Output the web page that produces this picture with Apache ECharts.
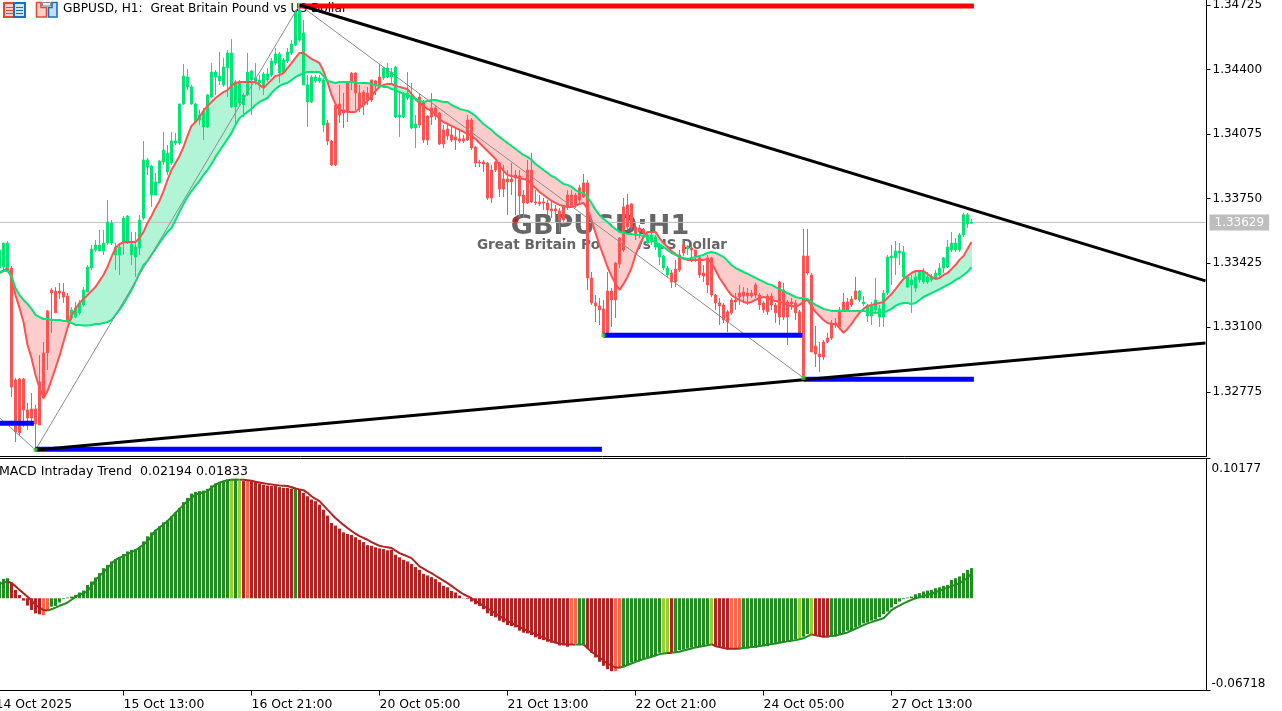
<!DOCTYPE html>
<html>
<head>
<meta charset="utf-8">
<script src="https://cdn.jsdelivr.net/npm/echarts@6/dist/echarts.min.js"></script>
<style>html,body{margin:0;padding:0;background:#fff;overflow:hidden}#c{width:1282px;height:711px}</style>
</head>
<body>
<div id="c"></div>
<script>
// All prices below are in points (1 point = 0.00001).
const tickLabels = ['14 Oct 2025','15 Oct 13:00','16 Oct 21:00','20 Oct 05:00','21 Oct 13:00','22 Oct 21:00','24 Oct 05:00','27 Oct 13:00'];
const priceTicks = [1.34725,1.344,1.34075,1.3375,1.33425,1.331,1.32775];
const priceTickText = ['1.34725','1.34400','1.34075','1.33750','1.33425','1.33100','1.32775'];
const macdTicks = [-0.06718,0.10177];
const lastPrice = 1.33629;

const highs = [
133490,133515,133525,133535,133409,132845,132845,132845,132719,132769,
132709,132961,133026,133188,133298,133303,133324,133324,133273,133203,
133228,133238,133303,133414,133515,133540,133591,133591,133742,133641,
133525,133525,133661,133666,133581,133581,133666,134039,133954,133919,
133878,133944,134085,134019,134085,134080,134226,134427,134402,134322,
134231,134196,134206,134276,134432,134397,134488,134458,134498,134553,
134347,134347,134281,134483,134397,134432,134372,134387,134407,134458,
134508,134488,134458,134508,134548,134700,134725,134649,134372,134372,
134372,134372,134357,134145,134044,134226,134322,134281,134342,134387,
134387,134322,134296,134312,134347,134347,134427,134412,134432,134407,
134417,134281,134286,134387,134332,134170,134281,134246,134170,134281,
134221,134185,134120,134120,134120,134105,134095,134070,134170,134155,
134014,133944,133944,133934,133919,133939,133934,133919,133893,133929,
133893,133893,133792,133944,133979,133792,133767,133752,133742,133742,
133717,133702,133712,133792,133792,133777,133818,133873,133843,133379,
133263,133248,133238,133379,133298,133429,133555,133752,133772,133727,
133616,133616,133601,133581,133576,133566,133525,133465,133409,133389,
133440,133490,133540,133515,133515,133490,133460,133414,133465,133455,
133268,133248,133223,133188,133248,133273,133314,133303,133298,133288,
133324,133273,133233,133268,133273,133223,133334,133324,133238,133248,
133238,133188,133596,133596,133374,133107,133026,133036,133072,133137,
133147,133203,133273,133248,133258,133354,133288,133258,133218,133228,
133349,133213,133288,133465,133515,133535,133525,133510,133364,133364,
133379,133389,133399,133379,133369,133389,133424,133455,133540,133581,
133550,133576,133677,133677,133646];

const lows = [
133389,133389,133389,133389,132749,132522,132557,132598,132583,132608,
132482,132608,132744,132885,133072,133173,133243,133223,133127,133137,
133147,133163,133203,133278,133389,133480,133485,133465,133515,133515,
133389,133364,133465,133520,133414,133354,133465,133641,133868,133707,
133767,133828,133919,133868,133919,134019,134019,134221,134296,134221,
134130,134120,134044,134105,134256,134271,134322,134312,134261,134206,
134130,134221,134160,134266,134170,134322,134296,134271,134337,134362,
134422,134332,134382,134432,134473,134518,134538,134322,134110,134231,
134332,134332,134085,134019,133913,133913,134130,134105,134135,134296,
134196,134185,134170,134221,134236,134271,134312,134347,134357,134322,
134155,134060,134155,134246,134100,134004,134105,134029,134019,134120,
134145,134019,134004,134044,134034,133994,134029,134029,134039,133994,
133908,133908,133883,133742,133727,133883,133757,133757,133666,133767,
133666,133656,133656,133722,133727,133717,133712,133692,133666,133651,
133631,133581,133631,133692,133702,133702,133717,133752,133288,133213,
133127,133112,133062,133067,133102,133147,133399,133480,133591,133591,
133540,133550,133566,133515,133515,133490,133414,133389,133349,133298,
133303,133379,133460,133465,133429,133429,133349,133329,133273,133253,
133188,133112,133122,133077,133163,133188,133213,133223,133213,133248,
133248,133188,133173,133163,133188,133122,133112,133137,133011,133188,
133137,133056,132835,133364,132976,132900,132875,132936,133021,133036,
133097,133087,133178,133178,133203,133238,133228,133208,133127,133112,
133178,133102,133102,133263,133314,133364,133414,133349,133298,133173,
133278,133324,133319,133319,133329,133339,133354,133374,133399,133480,
133480,133480,133555,133601,133621];

const opens = [
133399,133399,133404,133399,133399,132835,132840,132840,132684,132689,
132689,132825,132971,133183,133288,133283,133283,133278,133258,133147,
133152,133173,133213,133278,133399,133490,133485,133485,133525,133525,
133465,133465,133525,133530,133465,133455,133500,133651,133908,133767,
133767,133828,133934,133883,133929,134029,134029,134226,134312,134226,
134135,134145,134110,134110,134261,134362,134342,134322,134407,134211,
134211,134231,134221,134271,134347,134332,134332,134312,134347,134372,
134432,134382,134387,134443,134483,134523,134548,134322,134236,134236,
134342,134342,134120,134130,134039,134221,134226,134196,134337,134382,
134382,134281,134286,134281,134347,134342,134362,134357,134362,134362,
134160,134160,134160,134256,134105,134105,134261,134236,134165,134206,
134206,134180,134095,134100,134070,134060,134050,134050,134145,134145,
134009,133933,133933,133928,133893,133933,133928,133848,133848,133848,
133868,133863,133767,133893,133893,133732,133732,133732,133727,133697,
133697,133687,133707,133767,133767,133767,133803,133828,133828,133349,
133223,133208,133193,133283,133283,133424,133550,133707,133717,133722,
133606,133601,133591,133525,133530,133505,133455,133399,133364,133374,
133394,133465,133515,133495,133500,133490,133450,133374,133450,133450,
133263,133223,133213,133178,133238,133238,133273,133278,133273,133273,
133314,133263,133223,133258,133258,133213,133329,133288,133228,133228,
133223,133178,133460,133460,133364,133006,132966,133026,133046,133122,
133122,133188,133228,133228,133243,133283,133238,133218,133157,133157,
133188,133152,133152,133273,133450,133450,133475,133354,133303,133314,
133298,133339,133329,133329,133339,133349,133364,133399,133404,133490,
133490,133490,133566,133621,133625];

const closes = [
133465,133490,133525,133525,132799,132573,132568,132684,132643,132643,
132613,132608,132744,132971,133273,133173,133273,133253,133127,133188,
133198,133223,133288,133404,133495,133515,133515,133525,133631,133626,
133505,133505,133651,133661,133520,133505,133641,133944,133944,133913,
133833,133939,133994,133979,134039,134039,134226,134367,134362,134312,
134226,134170,134191,134271,134387,134387,134367,134412,134483,134483,
134337,134332,134271,134387,134392,134357,134347,134377,134377,134443,
134478,134478,134448,134488,134528,134690,134700,134584,134322,134362,
134362,134357,134347,134039,133918,133918,134170,134180,134186,134337,
134281,134206,134221,134246,134246,134322,134322,134407,134407,134387,
134412,134170,134281,134281,134256,134125,134120,134044,134044,134160,
134165,134024,134024,134065,134044,134044,134039,134039,134044,134004,
133928,133928,133923,133752,133752,133893,133797,133797,133833,133833,
133853,133762,133727,133727,133732,133727,133722,133727,133692,133687,
133687,133641,133641,133707,133712,133717,133742,133757,133349,133223,
133208,133188,133067,133072,133238,133238,133419,133490,133606,133606,
133566,133581,133576,133566,133566,133555,133515,133460,133399,133329,
133329,133389,133475,133505,133490,133460,133364,133359,133314,133263,
133223,133208,133137,133127,133173,133228,133253,133258,133258,133258,
133263,133213,133188,133178,133213,133173,133152,133152,133152,133218,
133173,133062,132845,133374,132976,132966,132951,132951,133026,133046,
133112,133102,133188,133188,133213,133243,133283,133228,133208,133208,
133238,133193,133273,133455,133460,133485,133485,133480,133354,133339,
133354,133379,133379,133354,133354,133374,133399,133450,133505,133525,
133525,133566,133667,133667,133629];

const fastEma = [
133369,133374,133384,133399,133349,133263,133198,133127,133011,132946,
132860,132794,132744,132779,132835,132895,132956,133026,133097,133157,
133193,133223,133243,133263,133283,133303,133334,133364,133404,133455,
133500,133520,133530,133530,133530,133530,133550,133581,133626,133661,
133702,133737,133787,133843,133893,133928,133964,134009,134065,134115,
134135,134160,134191,134216,134236,134256,134271,134286,134296,134317,
134332,134337,134337,134337,134337,134337,134322,134306,134327,134347,
134367,134372,134382,134407,134432,134458,134483,134483,134468,134453,
134443,134432,134392,134337,134271,134226,134196,134191,134186,134186,
134186,134206,134221,134241,134266,134291,134312,134322,134327,134327,
134317,134312,134306,134301,134276,134251,134231,134216,134201,134191,
134175,134150,134135,134125,134115,134105,134095,134085,134075,134065,
134049,134029,134009,133989,133969,133949,133918,133888,133868,133863,
133858,133853,133848,133843,133823,133802,133782,133767,133752,133737,
133727,133717,133712,133707,133707,133712,133722,133727,133697,133641,
133576,133515,133460,133404,133359,133319,133288,133319,133354,133399,
133465,133515,133555,133581,133581,133581,133550,133525,133505,133485,
133470,133455,133445,133440,133440,133440,133440,133440,133445,133424,
133389,133349,133319,133288,133263,133248,133238,133228,133223,133228,
133238,133248,133253,133248,133238,133233,133228,133223,133213,133208,
133203,133213,133228,133238,133208,133178,133157,133137,133122,133117,
133117,133097,133072,133092,133117,133147,133173,133193,133208,133213,
133218,133223,133228,133248,133268,133293,133319,133344,133359,133374,
133384,133384,133384,133369,133354,133344,133349,133364,133374,133394,
133414,133440,133460,133495,133530];

const slowEma = [
133379,133379,133384,133384,133359,133298,133263,133238,133218,133193,
133163,133152,133142,133142,133137,133137,133137,133132,133132,133122,
133112,133112,133109,133109,133112,133117,133117,133122,133127,133137,
133163,133188,133218,133253,133288,133329,133374,133414,133435,133465,
133495,133525,133555,133581,133601,133641,133682,133722,133757,133787,
133813,133838,133868,133893,133923,133959,133989,134019,134049,134080,
134120,134155,134170,134186,134201,134221,134236,134246,134256,134281,
134301,134317,134327,134332,134347,134362,134372,134382,134387,134387,
134387,134387,134367,134342,134337,134332,134337,134337,134337,134337,
134334,134332,134332,134332,134327,134322,134317,134312,134312,134301,
134296,134286,134276,134271,134261,134251,134241,134236,134241,134246,
134246,134241,134236,134236,134221,134211,134201,134196,134191,134180,
134165,134145,134125,134110,134095,134075,134060,134044,134029,134014,
133999,133984,133969,133959,133944,133923,133908,133893,133878,133863,
133853,133838,133823,133818,133808,133792,133782,133777,133757,133727,
133692,133666,133646,133631,133611,133596,133581,133576,133571,133571,
133566,133566,133561,133555,133540,133530,133515,133505,133490,133475,
133465,133455,133450,133445,133450,133455,133460,133465,133475,133480,
133475,133465,133455,133435,133414,133399,133389,133379,133369,133359,
133349,133339,133329,133319,133314,133303,133293,133283,133273,133263,
133253,133248,133248,133243,133228,133213,133203,133193,133188,133183,
133183,133183,133183,133183,133183,133183,133183,133183,133178,133173,
133173,133173,133173,133183,133193,133208,133218,133223,133223,133218,
133223,133238,133253,133263,133273,133283,133293,133303,133314,133324,
133339,133349,133364,133379,133404];

const macdHist = [
.0110,.0122,.0141,.0146,.0115,.0061,.0024,-.0017,-.0053,-.0086,
-.0110,-.0117,-.0122,-.0090,-.0061,-.0056,-.0031,-.0005,.0005,.0012,
.0024,.0042,.0056,.0097,.0122,.0151,.0183,.0219,.0243,.0268,
.0285,.0300,.0322,.0341,.0353,.0358,.0373,.0414,.0451,.0480,
.0499,.0524,.0553,.0568,.0597,.0626,.0658,.0700,.0731,.0762,
.0775,.0780,.0784,.0797,.0821,.0836,.0848,.0853,.0865,.0865,
.0865,.0853,.0853,.0853,.0853,.0848,.0836,.0826,.0821,.0817,
.0817,.0809,.0804,.0804,.0797,.0797,.0792,.0768,.0743,.0719,
.0707,.0682,.0645,.0602,.0548,.0529,.0507,.0480,.0468,.0461,
.0444,.0426,.0409,.0387,.0382,.0371,.0363,.0358,.0349,.0353,
.0317,.0298,.0280,.0268,.0249,.0227,.0207,.0178,.0166,.0154,
.0139,.0117,.0090,.0080,.0053,.0042,.0020,.0002,-.0005,-.0024,
-.0044,-.0056,-.0080,-.0110,-.0129,-.0139,-.0163,-.0175,-.0195,-.0202,
-.0212,-.0236,-.0251,-.0256,-.0268,-.0285,-.0298,-.0305,-.0317,-.0324,
-.0329,-.0344,-.0344,-.0353,-.0336,-.0329,-.0336,-.0336,-.0366,-.0397,
-.0431,-.0463,-.0492,-.0517,-.0531,-.0529,-.0512,-.0499,-.0488,-.0468,
-.0458,-.0451,-.0439,-.0433,-.0422,-.0414,-.0397,-.0397,-.0397,-.0397,
-.0390,-.0378,-.0373,-.0366,-.0360,-.0353,-.0353,-.0344,-.0336,-.0334,
-.0349,-.0353,-.0360,-.0373,-.0366,-.0373,-.0373,-.0366,-.0366,-.0360,
-.0360,-.0353,-.0349,-.0349,-.0341,-.0334,-.0324,-.0319,-.0317,-.0305,
-.0300,-.0292,-.0280,-.0261,-.0263,-.0268,-.0276,-.0285,-.0285,-.0276,
-.0276,-.0268,-.0251,-.0236,-.0232,-.0214,-.0200,-.0183,-.0175,-.0163,
-.0154,-.0139,-.0115,-.0097,-.0068,-.0042,-.0024,-.0007,.0005,.0012,
.0029,.0037,.0049,.0056,.0061,.0073,.0080,.0090,.0097,.0134,
.0146,.0159,.0183,.0207,.02194];

const macdSignal = [
.0095,.0105,.0113,.0122,.0110,.0088,.0061,.0037,.0011,-.0015,
-.0049,-.0069,-.0086,-.0090,-.0080,-.0068,-.0055,-.0044,-.0031,-.0011,
.0012,.0026,.0037,.0049,.0088,.0134,.0161,.0190,.0219,.0249,
.0280,.0296,.0307,.0322,.0336,.0349,.0369,.0391,.0414,.0453,
.0492,.0515,.0537,.0561,.0592,.0621,.0651,.0680,.0707,.0731,
.0755,.0764,.0771,.0780,.0804,.0828,.0841,.0852,.0860,.0863,
.0865,.0863,.0863,.0860,.0855,.0848,.0843,.0838,.0833,.0828,
.0824,.0821,.0819,.0817,.0808,.0799,.0793,.0787,.0768,.0743,
.0724,.0707,.0676,.0645,.0614,.0585,.0559,.0534,.0512,.0490,
.0470,.0453,.0439,.0426,.0409,.0395,.0382,.0376,.0371,.0366,
.0347,.0329,.0317,.0305,.0292,.0263,.0232,.0216,.0197,.0183,
.0164,.0146,.0128,.0110,.0090,.0069,.0048,.0029,.0015,0,
-.0018,-.0037,-.0055,-.0073,-.0091,-.0110,-.0129,-.0146,-.0164,-.0179,
-.0195,-.0208,-.0223,-.0238,-.0249,-.0261,-.0274,-.0285,-.0300,-.0311,
-.0322,-.0329,-.0333,-.0336,-.0336,-.0336,-.0336,-.0336,-.0362,-.0390,
-.0409,-.0431,-.0453,-.0475,-.0490,-.0504,-.0504,-.0499,-.0486,-.0475,
-.0463,-.0453,-.0442,-.0435,-.0426,-.0417,-.0407,-.0402,-.0399,-.0397,
-.0393,-.0390,-.0380,-.0373,-.0366,-.0358,-.0353,-.0347,-.0342,-.0336,
-.0349,-.0355,-.0362,-.0368,-.0368,-.0367,-.0366,-.0362,-.0358,-.0355,
-.0353,-.0347,-.0344,-.0338,-.0334,-.0329,-.0324,-.0319,-.0314,-.0309,
-.0305,-.0298,-.0292,-.0278,-.0263,-.0269,-.0275,-.0280,-.0278,-.0275,
-.0273,-.0265,-.0257,-.0249,-.0235,-.0222,-.0209,-.0196,-.0183,-.0174,
-.0164,-.0155,-.0146,-.0117,-.0086,-.0069,-.0053,-.0037,-.0024,-.0012,
0,.0008,.0016,.0024,.0034,.0044,.0055,.0066,.0077,.0088,
.0099,.0110,.0128,.0146,.01833];

// [colour key, how many consecutive histogram bars]
const macdColorRuns = [['g',4],['r',8],['o',2],['g',45],['y',1],['g',1],['y',1],['r',1],['o',1],['r',11],['g',1],['r',68],['o',2],['g',2],['r',7],['o',2],['g',10],['y',2],['r',1],['g',9],['y',1],['r',4],['o',3],['g',14],['y',1],['g',2],['y',1],['r',4],['g',36]];

// [bar index, price in points]
const zigzag = [[0,132663],[10,132482],[76,134725],[202,132845]];
const upperTrend = [[76,134725],[302.5,133334]];
const lowerTrend = [[10,132482],[302.5,133021]];
const levelRed = [[76,134720],[244.6,134720]];
const levelBlue1 = [[-0.5,132617],[9.6,132617]];
const levelBlue2 = [[10,132485],[151.6,132485]];
const levelBlue3 = [[152,133060],[201.7,133060]];
const levelBlue4 = [[202,132838],[244.6,132838]];
const pivotsGreen = [[10,132482],[152,133060],[202,132845]];
const pivotOrange = [[76,134725]];
const redDot = [[130,133640]];
const lastPriceLine = [[-0.5,133629],[302.5,133629]];

[highs,lows,opens,closes,fastEma,slowEma,macdHist,macdSignal].forEach((a,k)=>{ if(a.length!==245) throw new Error('length '+k+' = '+a.length); });

const BAR_SLOTS = 303, TICK_EVERY = 32;
const px = p => p/100000;
const categories = Array.from({length:BAR_SLOTS},(_,i)=> i%TICK_EVERY===0 && tickLabels[i/TICK_EVERY] ? tickLabels[i/TICK_EVERY] : String(i));
const showTick = i => i%TICK_EVERY===0 && i/TICK_EVERY<tickLabels.length;
const barKeys = []; macdColorRuns.forEach(([k,n])=>{ for(let j=0;j<n;j++) barKeys.push(k); });
const MACD_COLORS = {g:'#228B22',y:'#9ACD32',r:'#B22222',o:'#FF6347'};
const isUp = k => k==='g'||k==='y';
const sigUp = macdSignal.map((v,i)=> (isUp(barKeys[i])||isUp(barKeys[i+1]||barKeys[i])) ? v : null);
const sigDn = macdSignal.map((v,i)=> (!isUp(barKeys[i])||!isUp(barKeys[i+1]||barKeys[i])) ? v : null);
const pairs = a => a.map(([x,p])=>[x,px(p)]);
const FONT = '"DejaVu Sans"';

function fillItem(params, api){
  const i = params.dataIndex;
  if(i>=fastEma.length-1) return null;
  const a=api.coord([i,px(fastEma[i])]), b=api.coord([i,px(slowEma[i])]);
  const c=api.coord([i+1,px(fastEma[i+1])]), d=api.coord([i+1,px(slowEma[i+1])]);
  const s0=fastEma[i]-slowEma[i], s1=fastEma[i+1]-slowEma[i+1];
  const G='#B2F5D6', R='#FFCCCC';
  const poly=(pts,col)=>({type:'polygon',shape:{points:pts},style:{fill:col,stroke:col,lineWidth:1},silent:true});
  if(s0*s1>=0) return poly([a,c,d,b], (s0+s1)>=0?G:R);
  const t=s0/(s0-s1), m=[a[0]+(c[0]-a[0])*t, a[1]+(c[1]-a[1])*t];
  return {type:'group',children:[poly([a,m,b],s0>0?G:R),poly([m,c,d],s1>0?G:R)]};
}
const valueLine=(data,color,width,z)=>({type:'line',xAxisIndex:1,yAxisIndex:0,data:pairs(data),symbol:'none',z,lineStyle:{color,width},silent:true});

const chart = echarts.init(document.getElementById('c'),null,{renderer:'canvas'});
chart.setOption({
  animation:false,
  textStyle:{fontFamily:FONT},
  grid:[
    {left:-6.5,top:-1,width:1212,height:457.5,containLabel:false,outerBoundsMode:'none'},
    {left:-6.5,top:458.5,width:1212,height:232,containLabel:false,outerBoundsMode:'none'}
  ],
  graphic:{elements:[
    {type:'rect',shape:{x:4,y:3,width:10,height:14},style:{fill:'#FFD0C8',stroke:'#E0483C',lineWidth:2}},
    {type:'rect',shape:{x:14,y:3,width:11,height:14},style:{fill:'#CFE6F7',stroke:'#1B6FB5',lineWidth:2}},
    {type:'rect',shape:{x:6,y:7,width:7,height:1},style:{fill:'#E0483C'}},
    {type:'rect',shape:{x:6,y:10,width:7,height:1},style:{fill:'#E0483C'}},
    {type:'rect',shape:{x:6,y:13,width:7,height:1},style:{fill:'#E0483C'}},
    {type:'rect',shape:{x:16,y:7,width:7,height:1},style:{fill:'#1B6FB5'}},
    {type:'rect',shape:{x:16,y:10,width:7,height:1},style:{fill:'#1B6FB5'}},
    {type:'rect',shape:{x:16,y:13,width:7,height:1},style:{fill:'#1B6FB5'}},
    {type:'polygon',shape:{points:[[36.5,2.5],[41,2.5],[41,7.5],[46.5,7.5],[46.5,17],[36.5,17]]},style:{fill:'#FFD0C8',stroke:'#E0483C',lineWidth:1.6}},
    {type:'polygon',shape:{points:[[48.5,7.5],[52,7.5],[52,2.5],[57,2.5],[57,17],[48.5,17]]},style:{fill:'#BFE0F7',stroke:'#1B6FB5',lineWidth:1.6}},
    {type:'rect',shape:{x:42.5,y:2.5,width:8,height:3.5},style:{fill:'#EEE',stroke:'#888',lineWidth:1}},
    {type:'text',x:63,y:3,style:{text:'GBPUSD, H1:  Great Britain Pound vs US Dollar',font:'12.15px '+FONT,fill:'#000'}},
    {type:'text',x:600,y:227,style:{text:'GBPUSD:H1',font:'bold 27px '+FONT,fill:'#666',align:'center',verticalAlign:'middle'}},
    {type:'text',x:602,y:245.5,style:{text:'Great Britain Pound vs US Dollar',font:'bold 13.6px '+FONT,fill:'#666',align:'center',verticalAlign:'middle'}},
    {type:'text',x:-1,y:465,style:{text:'MACD Intraday Trend  0.02194 0.01833',font:'12.6px '+FONT,fill:'#000'}}
  ]},
  xAxis:[
    {type:'category',gridIndex:0,data:categories,boundaryGap:true,axisLine:{show:true,onZero:false,lineStyle:{color:'#000',width:1}},axisTick:{show:false},axisLabel:{show:false},splitLine:{show:false}},
    {type:'value',gridIndex:0,min:-0.5,max:302.5,show:false},
    {type:'category',gridIndex:1,data:categories,boundaryGap:true,position:'bottom',
      axisLine:{show:true,onZero:false,lineStyle:{color:'#000',width:1}},
      axisTick:{show:true,length:5,interval:i=>showTick(i),lineStyle:{color:'#000'},alignWithLabel:true},
      axisLabel:{show:true,interval:i=>showTick(i),align:'left',color:'#000',fontSize:12.4,fontFamily:FONT,margin:8,hideOverlap:false,formatter:v=>v},splitLine:{show:false}},
    {type:'category',gridIndex:1,data:categories,position:'top',axisLine:{show:true,onZero:false,lineStyle:{color:'#000',width:1}},axisTick:{show:false},axisLabel:{show:false},splitLine:{show:false}}
  ],
  yAxis:[
    {type:'value',gridIndex:0,position:'right',offset:1,min:1.32449,max:1.34755,splitLine:{show:false},
      axisLine:{show:true,onZero:false,lineStyle:{color:'#000'}},
      axisTick:{show:true,length:4,lineStyle:{color:'#000'},customValues:priceTicks},
      axisLabel:{show:true,color:'#000',fontSize:12,fontFamily:FONT,margin:6,padding:[6,0,0,0],customValues:priceTicks,
        formatter:v=>{const k=priceTicks.findIndex(t=>Math.abs(t-v)<1e-7);return k>=0?priceTickText[k]:v.toFixed(5);}}},
    {type:'value',gridIndex:1,position:'right',offset:1,min:macdTicks[0],max:macdTicks[1],splitLine:{show:false},
      axisLine:{show:true,onZero:false,lineStyle:{color:'#000'}},
      axisTick:{show:true,length:4,lineStyle:{color:'#000'},customValues:macdTicks},
      axisLabel:{show:true,color:'#000',fontSize:12,fontFamily:FONT,margin:5,padding:[4,0,1,0],customValues:macdTicks,verticalAlignMinLabel:'bottom',verticalAlignMaxLabel:'top',formatter:v=>v.toFixed(5)}}
  ],
  series:[
    {type:'line',xAxisIndex:1,yAxisIndex:0,data:pairs(lastPriceLine),z:1,symbol:'none',silent:true,lineStyle:{color:'#BEBEBE',width:1},
      endLabel:{show:true,distance:4,formatter:lastPrice.toFixed(5),color:'#fff',backgroundColor:'#BEBEBE',fontSize:12,fontFamily:FONT,padding:[2,5,2,5]}},
    {type:'custom',name:'EMA fill',xAxisIndex:0,yAxisIndex:0,z:1,silent:true,clip:true,renderItem:fillItem,
      data:fastEma.map((v,i)=>[i,px(v),px(slowEma[i])]),encode:{x:0,y:[1,2]}},
    {type:'candlestick',name:'GBPUSD',xAxisIndex:0,yAxisIndex:0,z:2,barWidth:2,silent:true,clip:true,
      itemStyle:{color:'#00E676',color0:'#FF5252',borderColor:'#00E676',borderColor0:'#FF5252',borderWidth:1},
      data:opens.map((o,i)=>[px(o),px(closes[i]),px(lows[i]),px(highs[i])])},
    {type:'line',name:'fast',xAxisIndex:0,yAxisIndex:0,z:3,data:fastEma.map(px),symbol:'none',silent:true,lineStyle:{color:'#FF5252',width:2}},
    {type:'line',name:'slow',xAxisIndex:0,yAxisIndex:0,z:3,data:slowEma.map(px),symbol:'none',silent:true,lineStyle:{color:'#00E676',width:2}},
    valueLine(zigzag,'#8C8C8C',1,4),
    valueLine(levelRed,'#FF0000',5,5),
    valueLine(levelBlue1,'#0000FF',5,5),
    valueLine(levelBlue2,'#0000FF',5,5),
    valueLine(levelBlue3,'#0000FF',5,5),
    valueLine(levelBlue4,'#0000FF',5,5),
    valueLine(upperTrend,'#000',3,6),
    valueLine(lowerTrend,'#000',3,6),
    {type:'scatter',xAxisIndex:1,yAxisIndex:0,z:7,symbol:'rect',symbolSize:4,silent:true,data:pairs(pivotsGreen),itemStyle:{color:'#22DD22'}},
    {type:'scatter',xAxisIndex:1,yAxisIndex:0,z:5,symbol:'rect',symbolSize:4,silent:true,data:pairs(pivotOrange),itemStyle:{color:'#FF9900'}},
    {type:'scatter',xAxisIndex:1,yAxisIndex:0,z:1,symbol:'circle',symbolSize:6,silent:true,data:pairs(redDot),itemStyle:{color:'#D01818'}},
    {type:'bar',name:'MACD',xAxisIndex:2,yAxisIndex:1,barWidth:3,z:2,silent:true,
      data:macdHist.map((v,i)=>({value:v,itemStyle:{color:MACD_COLORS[barKeys[i]]}}))},
    {type:'line',name:'signal up',xAxisIndex:2,yAxisIndex:1,z:3,data:sigUp,symbol:'none',silent:true,connectNulls:false,lineStyle:{color:'#228B22',width:2}},
    {type:'line',name:'signal down',xAxisIndex:2,yAxisIndex:1,z:3,data:sigDn,symbol:'none',silent:true,connectNulls:false,lineStyle:{color:'#B22222',width:2}}
  ]
});
</script>
</body>
</html>
